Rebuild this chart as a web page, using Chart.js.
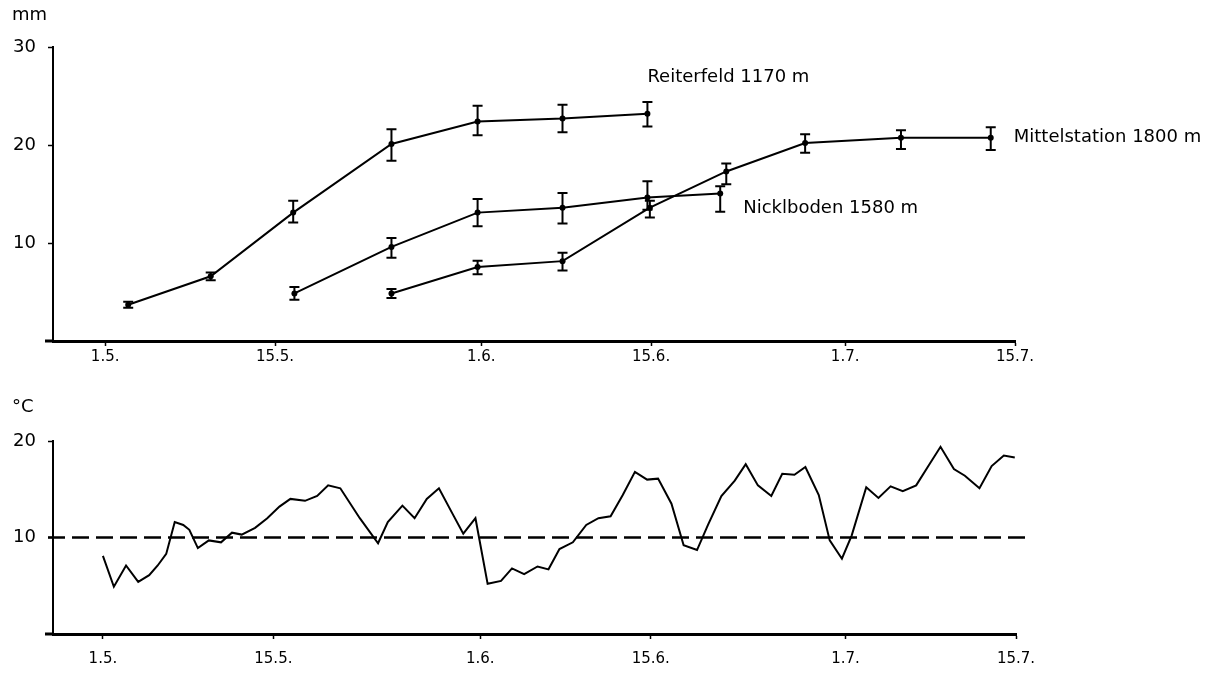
<!DOCTYPE html>
<html>
<head>
<meta charset="utf-8">
<script src="https://cdn.jsdelivr.net/npm/chart.js@4"></script>
<style>
  html, body { margin: 0; padding: 0; background: #fff; }
  #wrap { position: relative; width: 1214px; height: 674px; }
  #top, #bottom { position: absolute; left: 0; }
  #top { top: 0; }
  #bottom { top: 380px; }
</style>
</head>
<body>
<div id="wrap">
  <canvas id="top" width="1214" height="380"></canvas>
  <canvas id="bottom" width="1214" height="294"></canvas>
</div>
<script>
// x values are days after 1 May
const tickDays = [0, 14, 31, 45, 61, 75];
const tickLabels = ['1.5.', '15.5.', '1.6.', '15.6.', '1.7.', '15.7.'];
const topYTicks = [10, 20, 30];
const bottomYTicks = [10, 20];

const reiterDays = [1.9, 8.7, 15.5, 23.6, 30.7, 37.7, 44.7];
const reiterValues = [3.7, 6.6, 13.1, 20.1, 22.4, 22.7, 23.2];
const reiterLow = [3.4, 6.2, 12.1, 18.4, 21.0, 21.3, 21.9];
const reiterHigh = [4.0, 7.0, 14.3, 21.6, 24.0, 24.1, 24.4];

const nickDays = [15.6, 23.6, 30.7, 37.7, 44.7, 50.7];
const nickValues = [4.85, 9.6, 13.1, 13.6, 14.65, 15.05];
const nickLow = [4.2, 8.5, 11.7, 12.0, 13.4, 13.2];
const nickHigh = [5.5, 10.5, 14.5, 15.1, 16.3, 15.8];

const mittelDays = [23.6, 30.7, 37.7, 44.9, 51.2, 57.7, 65.6, 73.0];
const mittelValues = [4.85, 7.55, 8.15, 13.6, 17.3, 20.2, 20.75, 20.75];
const mittelLow = [4.4, 6.8, 7.2, 12.6, 16.0, 19.2, 19.6, 19.5];
const mittelHigh = [5.3, 8.2, 9.0, 14.3, 18.1, 21.1, 21.5, 21.8];

const tempDays = [0.0, 0.9, 1.9, 2.9, 3.8, 4.5, 5.2, 5.9, 6.6, 7.1, 7.8, 8.7, 9.7, 10.6, 11.4, 12.5,
  13.5, 14.5, 15.4, 16.6, 17.6, 18.5, 19.5, 21.1, 22.6, 23.4, 24.6, 25.6, 26.6, 27.6, 28.7, 29.6,
  30.6, 31.6, 32.7, 33.6, 34.6, 35.7, 36.6, 37.5, 38.6, 39.7, 40.7, 41.7, 42.7, 43.7, 44.7, 45.6,
  46.7, 47.7, 48.8, 49.7, 50.8, 51.9, 52.8, 53.8, 54.9, 55.8, 56.8, 57.7, 58.8, 59.7, 60.7, 61.5,
  62.7, 63.7, 64.7, 65.7, 66.8, 67.8, 68.8, 69.9, 70.8, 72.0, 73.0, 74.0, 74.9];
const tempValues = [8.1, 4.9, 7.1, 5.4, 6.1, 7.1, 8.3, 11.6, 11.3, 10.8, 8.9, 9.7, 9.5, 10.5, 10.3, 11.0,
  12.0, 13.2, 14.0, 13.8, 14.3, 15.4, 15.1, 12.0, 9.4, 11.6, 13.3, 12.0, 14.0, 15.1, 12.5, 10.4,
  12.0, 5.2, 5.5, 6.8, 6.2, 7.0, 6.7, 8.8, 9.5, 11.3, 12.0, 12.2, 14.4, 16.8, 16.0, 16.1,
  13.5, 9.2, 8.7, 11.3, 14.3, 15.9, 17.6, 15.4, 14.3, 16.6, 16.5, 17.3, 14.4, 9.7, 7.8, 10.2,
  15.2, 14.1, 15.3, 14.8, 15.4, 17.4, 19.4, 17.1, 16.4, 15.1, 17.4, 18.5, 18.3];
const tempThreshold = 10;

const FONT = "'DejaVu Sans', 'Liberation Sans', sans-serif";
Chart.defaults.font.family = FONT;
Chart.defaults.font.size = 16;
Chart.defaults.color = '#000';
Chart.defaults.animation = false;

function pts(days, vals) {
  return days.map((d, i) => ({ x: d, y: vals[i] }));
}

function series(label, days, vals, low, high, labelOffset) {
  return {
    label,
    data: pts(days, vals),
    errLow: low,
    errHigh: high,
    labelOffset,
    borderColor: '#000',
    borderWidth: 2,
    pointRadius: 3,
    pointBackgroundColor: '#000',
    pointBorderWidth: 0,
    tension: 0
  };
}

const errorBars = {
  id: 'errorBars',
  afterDatasetsDraw(chart) {
    const { ctx, scales: { y } } = chart;
    ctx.save();
    ctx.strokeStyle = '#000';
    ctx.lineWidth = 2;
    chart.data.datasets.forEach((ds, i) => {
      if (!ds.errLow) return;
      chart.getDatasetMeta(i).data.forEach((pt, j) => {
        const lo = y.getPixelForValue(ds.errLow[j]);
        const hi = y.getPixelForValue(ds.errHigh[j]);
        ctx.beginPath();
        ctx.moveTo(pt.x, lo); ctx.lineTo(pt.x, hi);
        ctx.moveTo(pt.x - 5, lo); ctx.lineTo(pt.x + 5, lo);
        ctx.moveTo(pt.x - 5, hi); ctx.lineTo(pt.x + 5, hi);
        ctx.stroke();
      });
    });
    ctx.restore();
  }
};

// station names written next to the last point of each line
const seriesLabels = {
  id: 'seriesLabels',
  afterDatasetsDraw(chart) {
    const { ctx } = chart;
    ctx.save();
    ctx.font = '18px ' + FONT;
    ctx.fillStyle = '#000';
    ctx.textAlign = 'left';
    ctx.textBaseline = 'middle';
    chart.data.datasets.forEach((ds, i) => {
      if (!ds.labelOffset) return;
      const pts = chart.getDatasetMeta(i).data;
      const last = pts[pts.length - 1];
      ctx.fillText(ds.label, last.x + ds.labelOffset[0], last.y + ds.labelOffset[1]);
    });
    ctx.restore();
  }
};

// unit text above the y axis, and the x axis line running a bit left of the y axis
const axisExtras = {
  id: 'axisExtras',
  afterDraw(chart, args, opts) {
    const { ctx, chartArea } = chart;
    ctx.save();
    ctx.font = '18px ' + FONT;
    ctx.fillStyle = '#000';
    ctx.textBaseline = 'middle';
    ctx.fillText(opts.unit, 12, opts.unitY);
    ctx.strokeStyle = '#000';
    ctx.lineWidth = 3;
    ctx.beginPath();
    ctx.moveTo(chartArea.left - 8, chartArea.bottom);
    ctx.lineTo(chartArea.left, chartArea.bottom);
    ctx.stroke();
    ctx.restore();
  }
};

const thresholdLine = {
  id: 'thresholdLine',
  beforeDatasetsDraw(chart, args, opts) {
    if (opts.value == null) return;
    const { ctx, chartArea, scales: { y } } = chart;
    const py = y.getPixelForValue(opts.value);
    ctx.save();
    ctx.strokeStyle = '#000';
    ctx.lineWidth = 2.5;
    ctx.setLineDash([17, 7]);
    ctx.beginPath();
    ctx.moveTo(chartArea.left - 5, py);
    ctx.lineTo(chartArea.right + 9, py);
    ctx.stroke();
    ctx.restore();
  }
};

function xScale(min, labelPad) {
  return {
    type: 'linear',
    min, max: 75,
    afterBuildTicks: s => { s.ticks = tickDays.map(v => ({ value: v })); },
    ticks: {
      autoSkip: false, maxRotation: 0, padding: labelPad,
      font: { size: 15 },
      callback: v => tickLabels[tickDays.indexOf(v)]
    },
    grid: { drawOnChartArea: false, drawTicks: true, tickLength: 5, tickColor: '#000', tickWidth: 1.5 },
    border: { color: '#000', width: 3 },
    afterFit: s => { s.height = s.options.fitHeight; }
  };
}

function yScale(max, ticks) {
  return {
    min: 0, max,
    afterBuildTicks: s => { s.ticks = ticks.map(v => ({ value: v })); },
    ticks: { padding: 12, font: { size: 18 } },
    grid: { drawOnChartArea: false, drawTicks: true, tickLength: 5, tickColor: '#000', tickWidth: 1.5 },
    border: { color: '#000', width: 2 },
    afterFit: s => { s.width = 53; }
  };
}

const topX = xScale(-4.3, 2);
topX.fitHeight = 39;

new Chart(document.getElementById('top'), {
  type: 'line',
  data: {
    datasets: [
      series('Reiterfeld 1170 m', reiterDays, reiterValues, reiterLow, reiterHigh, [0, -36]),
      series('Nicklboden 1580 m', nickDays, nickValues, nickLow, nickHigh, [23, 15]),
      series('Mittelstation 1800 m', mittelDays, mittelValues, mittelLow, mittelHigh, [23, 0])
    ]
  },
  options: {
    responsive: false,
    layout: { padding: { top: 47, right: 199, left: 0, bottom: 0 } },
    plugins: {
      legend: { display: false },
      tooltip: { enabled: false },
      axisExtras: { unit: 'mm', unitY: 15 }
    },
    scales: { x: topX, y: yScale(30, topYTicks) }
  },
  plugins: [errorBars, seriesLabels, axisExtras]
});

const bottomX = xScale(-4.1, 11);
bottomX.fitHeight = 40;

new Chart(document.getElementById('bottom'), {
  type: 'line',
  data: {
    datasets: [{
      label: 'Temperatur',
      data: pts(tempDays, tempValues),
      borderColor: '#000',
      borderWidth: 2,
      pointRadius: 0,
      tension: 0
    }]
  },
  options: {
    responsive: false,
    layout: { padding: { top: 61, right: 198, left: 0, bottom: 0 } },
    plugins: {
      legend: { display: false },
      tooltip: { enabled: false },
      axisExtras: { unit: '°C', unitY: 27 },
      thresholdLine: { value: tempThreshold }
    },
    scales: { x: bottomX, y: yScale(20, bottomYTicks) }
  },
  plugins: [thresholdLine, axisExtras]
});
</script>
</body>
</html>
